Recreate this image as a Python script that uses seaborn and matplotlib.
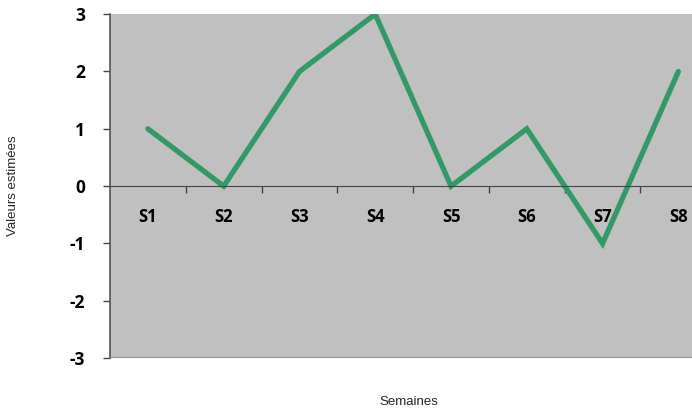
import matplotlib
matplotlib.use("Agg")
import matplotlib.pyplot as plt
import seaborn as sns
import pandas as pd

# data
semaines = ['S1', 'S2', 'S3', 'S4', 'S5', 'S6', 'S7', 'S8']
valeurs = [1, 0, 2, 3, 0, 1, -1, 2]
yticks = [-3, -2, -1, 0, 1, 2, 3]

sns.set_style('white')
plt.rcParams['font.family'] = ['Open Sans', 'DejaVu Sans']

df = pd.DataFrame({'semaine': semaines, 'valeur': valeurs})
pos = list(range(len(semaines)))

fig = plt.figure(figsize=(6.92, 4.16), dpi=100)
ax = fig.add_axes([0.159, 0.139, 0.841, 0.827])
ax.set_facecolor('#c0c0c0')

sns.lineplot(x=pos, y=df['valeur'], ax=ax, color='#339966', linewidth=3.8,
             solid_capstyle='round', solid_joinstyle='miter')

ax.set_xlim(-0.5, 7.18)
ax.set_ylim(-3, 3)

# x axis on the zero line
ax.spines['bottom'].set_position(('data', 0))
ax.spines['bottom'].set_color('#444444')
ax.spines['left'].set_color('#555555')
ax.spines['left'].set_linewidth(1.2)
ax.spines['top'].set_visible(False)
ax.spines['right'].set_visible(False)
ax.axhline(-3, color='#8a8a8a', linewidth=1.2)

ax.set_xticks(pos)
ax.set_xticklabels(semaines, fontweight='bold', fontsize=12, color='black')
ax.set_xticks([p + 0.5 for p in pos[:-1]], minor=True)
ax.tick_params(axis='x', which='major', length=0, pad=16)
ax.tick_params(axis='x', which='minor', bottom=True, length=5, width=1,
               direction='out', color='#444444')

ax.set_yticks(yticks)
ax.set_yticklabels([str(v) for v in yticks], fontweight='bold', fontsize=12.5, color='black')
ax.tick_params(axis='y', length=5, width=1, direction='out', color='#444444', pad=13, left=True)

lab_font = dict(fontsize=9.5, family=['Liberation Sans', 'DejaVu Sans'], fontstretch='condensed')
ax.set_xlabel('Semaines', **lab_font)
ax.xaxis.set_label_coords((409 - 110) / 582, -0.11)
ax.set_ylabel('Valeurs estimées', **lab_font)
ax.yaxis.set_label_coords(-0.157, 0.5)

fig.savefig('out.png', dpi=100)
